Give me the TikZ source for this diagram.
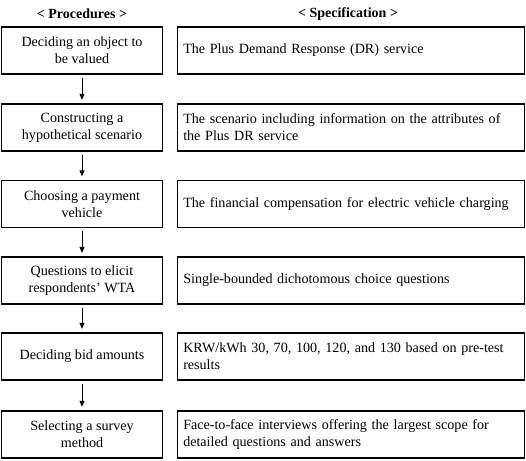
\documentclass[tikz,border=0pt]{standalone}
\usepackage{fontspec}
\setmainfont{Liberation Serif}
\usetikzlibrary{arrows.meta}
\begin{document}
\begin{tikzpicture}[x=1pt,y=-1pt,
  procbox/.style={draw,line width=1.3pt,minimum width=161pt,minimum height=47pt,align=center,inner sep=2pt,font=\fontsize{14.1}{17}\selectfont},
  specbox/.style={draw,line width=1.3pt,minimum width=347pt,minimum height=47pt,text width=335pt,align=left,inner sep=0pt,font=\fontsize{14.1}{17}\selectfont},
  head/.style={font=\bfseries\fontsize{14}{16}\selectfont},
  flow/.style={-{Triangle[length=6pt,width=5pt]},line width=0.9pt,shorten <=3pt,shorten >=3.5pt}]
\useasboundingbox (0,0) rectangle (526,460);
\node[head] (h1) at (82,14) {< Procedures >};
\node[head] (h2) at (348,14) {< Specification >};
\node[procbox] (p1) at (82,50.5) {Deciding an object to\\be valued};
\node[procbox] (p2) at (82,127.5) {Constructing a\\hypothetical scenario};
\node[procbox] (p3) at (82,204) {Choosing a payment\\vehicle};
\node[procbox] (p4) at (82,280.5) {Questions to elicit\\respondents’ WTA};
\node[procbox] (p5) at (82,356.5) {Deciding bid amounts};
\node[procbox] (p6) at (82,434.5) {Selecting a survey\\method};
\node[specbox] (s1) at (350.75,50.5) {The Plus Demand Response (DR) service};
\node[specbox] (s2) at (350.75,127.5) {The scenario including information on the attributes of\\the Plus DR service};
\node[specbox] (s3) at (350.75,204) {The financial compensation for electric vehicle charging};
\node[specbox] (s4) at (350.75,280.5) {Single-bounded dichotomous choice questions};
\node[specbox] (s5) at (350.75,356.5) {KRW/kWh 30, 70, 100, 120, and 130 based on pre-test\\results};
\node[specbox] (s6) at (350.75,434.5) {Face-to-face interviews offering the largest scope for\\detailed questions and answers};
\draw[flow] (p1) -- (p2);
\draw[flow] (p2) -- (p3);
\draw[flow] (p3) -- (p4);
\draw[flow] (p4) -- (p5);
\draw[flow] (p5) -- (p6);
\end{tikzpicture}
\end{document}
